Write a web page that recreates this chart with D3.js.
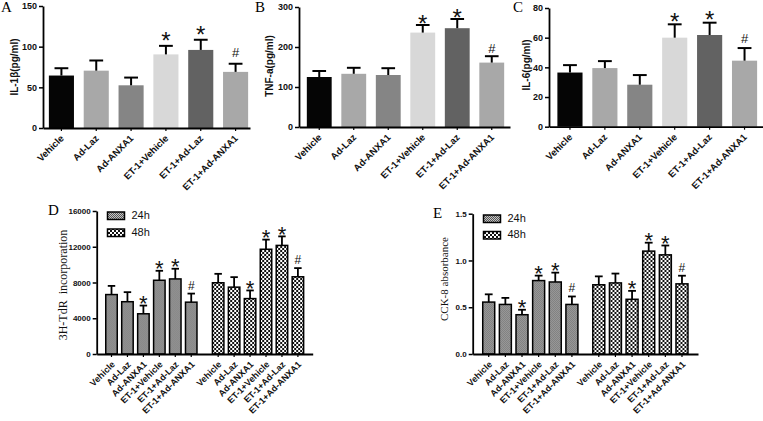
<!DOCTYPE html>
<html>
<head>
<meta charset="utf-8">
<script src="https://cdn.jsdelivr.net/npm/d3@7"></script>
<style>
  html, body { margin: 0; padding: 0; background: #fff; }
  svg { display: block; }
  .sans { font-family: "Liberation Sans", Arial, sans-serif; }
  .serif { font-family: "Liberation Serif", "Times New Roman", serif; }
</style>
</head>
<body>
<svg id="chart" width="763" height="421"></svg>
<script>
// ---------------- DATA ----------------
const categories = ["Vehicle", "Ad-Laz", "Ad-ANXA1", "ET-1+Vehicle", "ET-1+Ad-Laz", "ET-1+Ad-ANXA1"];
const barColors = ["#050505", "#a8a8a8", "#858585", "#d8d8d8", "#626262", "#a8a8a8"];

const il1bMean = [64.5, 70.5, 52.5, 90.5, 96, 69];
const il1bErr  = [9, 12.5, 9.5, 10.5, 12.5, 10];
const tnfMean  = [125, 133, 130, 236, 247, 161];
const tnfErr   = [15, 15, 17, 19, 23, 16];
const il6Mean  = [36.5, 39.5, 28.3, 60, 61.8, 44.5];
const il6Err   = [5, 4.7, 6.5, 9, 8.3, 8.5];
const markABC  = ["", "", "", "*", "*", "#"];

const timeGroups = ["24h", "48h"];
const tdr24Mean = [6650, 5850, 4500, 8250, 8400, 5800];
const tdr24Err  = [970, 1070, 920, 1060, 1140, 960];
const tdr48Mean = [7970, 7480, 6200, 11720, 12150, 8640];
const tdr48Err  = [1000, 1120, 910, 1080, 1010, 970];
const cck24Mean = [0.555, 0.53, 0.42, 0.785, 0.77, 0.53];
const cck24Err  = [0.083, 0.07, 0.053, 0.053, 0.1, 0.085];
const cck48Mean = [0.74, 0.76, 0.585, 1.10, 1.06, 0.75];
const cck48Err  = [0.09, 0.1, 0.09, 0.09, 0.1, 0.087];
const markDE    = ["", "", "*", "*", "*", "#"];

const ticksA = [0, 50, 100, 150];
const ticksB = [0, 100, 200, 300];
const ticksC = [0, 20, 40, 60, 80];
const ticksD = [0, 4000, 8000, 12000, 16000];
const ticksE = [0, 0.5, 1.0, 1.5];

// ---------------- DRAW ----------------
const svg = d3.select("#chart");
const defs = svg.append("defs");

// 24h: fine grey texture
const p24 = defs.append("pattern").attr("id", "pat24").attr("patternUnits", "userSpaceOnUse")
  .attr("width", 2).attr("height", 2);
p24.append("rect").attr("width", 2).attr("height", 2).attr("fill", "#c4c4c4");
p24.append("rect").attr("width", 1).attr("height", 1).attr("fill", "#555");
p24.append("rect").attr("x", 1).attr("y", 1).attr("width", 1).attr("height", 1).attr("fill", "#555");
// 48h: black/white checkerboard
const p48 = defs.append("pattern").attr("id", "pat48").attr("patternUnits", "userSpaceOnUse")
  .attr("width", 4).attr("height", 4);
p48.append("rect").attr("width", 4).attr("height", 4).attr("fill", "#ffffff");
p48.append("rect").attr("width", 2).attr("height", 2).attr("fill", "#111");
p48.append("rect").attr("x", 2).attr("y", 2).attr("width", 2).attr("height", 2).attr("fill", "#111");
const patFill = { "24h": "url(#pat24)", "48h": "url(#pat48)" };

function yAxis(g, y, ticks, fmt, fs) {
  const ax = d3.axisLeft(y).tickValues(ticks).tickSize(4).tickSizeOuter(0).tickPadding(2)
    .tickFormat(fmt);
  g.call(ax);
  g.select(".domain").attr("stroke", "#000").attr("stroke-width", 1.8);
  g.selectAll(".tick line").attr("stroke", "#000").attr("stroke-width", 1.5);
  g.selectAll(".tick text").attr("class", "sans").attr("font-size", fs).attr("font-weight", "bold")
    .attr("fill", "#111");
}

function xAxisLine(svgSel, x0, x1, yb) {
  const s = d3.scaleLinear().range([x0, x1]);
  const g = svgSel.append("g").attr("transform", `translate(0,${yb})`)
    .call(d3.axisBottom(s).tickValues([]).tickSizeOuter(0));
  g.select(".domain").attr("stroke", "#000").attr("stroke-width", 1.8);
}

function errBar(g, cx, yTop, yBase, capW, sw) {
  g.append("line").attr("x1", cx).attr("x2", cx).attr("y1", yBase).attr("y2", yTop)
    .attr("stroke", "#000").attr("stroke-width", sw);
  g.append("line").attr("x1", cx - capW / 2).attr("x2", cx + capW / 2).attr("y1", yTop).attr("y2", yTop)
    .attr("stroke", "#000").attr("stroke-width", sw);
}

// significance mark: gap = distance between glyph bottom and error cap
function mark(g, sym, cx, capY, gap, starSize, hashSize) {
  const isStar = sym === "*";
  const fs = isStar ? starSize : hashSize;
  // asterisk glyph bottom sits ~0.43em above baseline
  const base = isStar ? capY - gap + 0.43 * fs : capY - gap;
  g.append("text").attr("class", "sans").attr("x", cx).attr("y", base)
    .attr("text-anchor", "middle").attr("font-size", fs).attr("fill", "#111").text(sym);
}

// ----- Panels A, B, C -----
const topPanels = [
  { letter: "A", lx: 1, axisX: 43, axisEnd: 250, band: [44, 253], yRange: [128, 6], dom: [0, 150],
    mean: il1bMean, err: il1bErr, ticks: ticksA, title: "IL-1β(pg/ml)", tx: 15, ty: 67, gap: 7 },
  { letter: "B", lx: 255, axisX: 299, axisEnd: 510, band: [302, 509], yRange: [127, 7], dom: [0, 300],
    mean: tnfMean, err: tnfErr, ticks: ticksB, title: "TNF-a(pg/ml)", tx: 270, ty: 66, gap: 3 },
  { letter: "C", lx: 513, axisX: 549, axisEnd: 763, band: [552.5, 762], yRange: [126.7, 8], dom: [0, 80],
    mean: il6Mean, err: il6Err, ticks: ticksC, title: "IL-6(pg/ml)", tx: 527, ty: 65, gap: 5 }
];

topPanels.forEach(p => {
  const g = svg.append("g");
  const x = d3.scaleBand().domain(categories).range(p.band).paddingInner(0.28).paddingOuter(0.14);
  const y = d3.scaleLinear().domain(p.dom).range(p.yRange);
  const bw = x.bandwidth();

  g.selectAll("rect.bar").data(categories).join("rect").attr("class", "bar")
    .attr("x", d => x(d)).attr("width", bw)
    .attr("y", (d, i) => y(p.mean[i])).attr("height", (d, i) => y(0) - y(p.mean[i]))
    .attr("fill", (d, i) => barColors[i]);

  categories.forEach((c, i) => {
    const cx = x(c) + bw / 2;
    const capY = y(p.mean[i] + p.err[i]);
    errBar(g, cx, capY, y(p.mean[i]), bw * 0.55, 2);
    if (markABC[i]) mark(g, markABC[i], cx, capY, p.gap, 24, 13);
  });

  const ya = g.append("g").attr("transform", `translate(${p.axisX},0)`);
  yAxis(ya, y, p.ticks, d3.format("d"), 9);
  xAxisLine(g, p.axisX, p.axisEnd, p.yRange[0]);

  categories.forEach(c => {
    const cx = x(c) + bw / 2;
    g.append("line").attr("x1", cx).attr("x2", cx).attr("y1", p.yRange[0]).attr("y2", p.yRange[0] + 3)
      .attr("stroke", "#000").attr("stroke-width", 1.2);
    g.append("text").attr("class", "sans")
      .attr("transform", `translate(${cx + 3},${p.yRange[0] + 11}) rotate(-45)`)
      .attr("text-anchor", "end").attr("font-size", 9.5).attr("font-weight", "bold")
      .attr("fill", "#111").text(c);
  });

  g.append("text").attr("class", "sans")
    .attr("transform", `translate(${p.tx},${p.ty}) rotate(-90)`)
    .attr("text-anchor", "middle").attr("dominant-baseline", "middle")
    .attr("font-size", 10).attr("font-weight", "bold").attr("fill", "#111").text(p.title);

  g.append("text").attr("class", "serif").attr("x", p.lx).attr("y", 12)
    .attr("font-size", 15).attr("fill", "#000").text(p.letter);
});

// ----- Panels D, E -----
const botPanels = [
  { letter: "D", lx: 48, ly: 215, axisX: 96.7, axisEnd: 312.7, yRange: [354, 211], dom: [0, 16000],
    pI: 0.103, pO: 0.064, ticks: ticksD, fmt: d3.format("d"),
    series: { "24h": [tdr24Mean, tdr24Err], "48h": [tdr48Mean, tdr48Err] },
    title: "3H-TdR  incorporation", tfs: 12, tx: 64, ty: 285,
    legX: 107.5, legY: [212, 229] },
  { letter: "E", lx: 433, ly: 218, axisX: 472.7, axisEnd: 698, yRange: [354, 213.7], dom: [0, 1.5],
    pI: 0.093, pO: 0.07, ticks: ticksE, fmt: d3.format(".1f"),
    series: { "24h": [cck24Mean, cck24Err], "48h": [cck48Mean, cck48Err] },
    title: "CCK-8 absorbance", tfs: 11, tx: 445.5, ty: 279,
    legX: 483.5, legY: [215, 231.5] }
];

botPanels.forEach(p => {
  const g = svg.append("g");
  const xg = d3.scaleBand().domain(timeGroups).range([p.axisX, p.axisEnd])
    .paddingInner(p.pI).paddingOuter(p.pO);
  const x = d3.scaleBand().domain(categories).range([0, xg.bandwidth()])
    .paddingInner(0.28).paddingOuter(0.14);
  const y = d3.scaleLinear().domain(p.dom).range(p.yRange);
  const bw = x.bandwidth();

  timeGroups.forEach(t => {
    const [mean, err] = p.series[t];
    const gg = g.append("g").attr("transform", `translate(${xg(t)},0)`);
    gg.selectAll("rect.bar").data(categories).join("rect").attr("class", "bar")
      .attr("x", d => x(d)).attr("width", bw)
      .attr("y", (d, i) => y(mean[i])).attr("height", (d, i) => y(0) - y(mean[i]))
      .attr("fill", patFill[t]).attr("stroke", "#000").attr("stroke-width", 1.5);
    categories.forEach((c, i) => {
      const cx = x(c) + bw / 2;
      const capY = y(mean[i] + err[i]);
      errBar(gg, cx, capY, y(mean[i]), bw * 0.65, 1.8);
      if (markDE[i]) mark(gg, markDE[i], cx, capY, 4, 22, 12);
      gg.append("line").attr("x1", cx).attr("x2", cx).attr("y1", p.yRange[0]).attr("y2", p.yRange[0] + 3)
        .attr("stroke", "#000").attr("stroke-width", 1.2);
      gg.append("text").attr("class", "sans")
        .attr("transform", `translate(${cx + 4},${p.yRange[0] + 11}) rotate(-45)`)
        .attr("text-anchor", "end").attr("font-size", 9).attr("font-weight", "bold")
        .attr("fill", "#111").text(c);
    });
  });

  const ya = g.append("g").attr("transform", `translate(${p.axisX},0)`);
  yAxis(ya, y, p.ticks, p.fmt, 8);
  xAxisLine(g, p.axisX, p.axisEnd, p.yRange[0]);

  g.append("text").attr("class", "serif")
    .attr("transform", `translate(${p.tx},${p.ty}) rotate(-90)`)
    .attr("text-anchor", "middle").attr("dominant-baseline", "middle")
    .attr("font-size", p.tfs).attr("fill", "#111").attr("xml:space", "preserve")
    .style("white-space", "pre").text(p.title);

  g.append("text").attr("class", "serif").attr("x", p.lx).attr("y", p.ly)
    .attr("font-size", 15).attr("fill", "#000").text(p.letter);

  // legend
  timeGroups.forEach((t, i) => {
    g.append("rect").attr("x", p.legX).attr("y", p.legY[i]).attr("width", 17).attr("height", 7.5)
      .attr("fill", patFill[t]).attr("stroke", "#000").attr("stroke-width", 1.5);
    g.append("text").attr("class", "sans").attr("x", p.legX + 24).attr("y", p.legY[i] + 4)
      .attr("dominant-baseline", "middle").attr("font-size", 11).attr("fill", "#111").text(t);
  });
});
</script>
</body>
</html>
